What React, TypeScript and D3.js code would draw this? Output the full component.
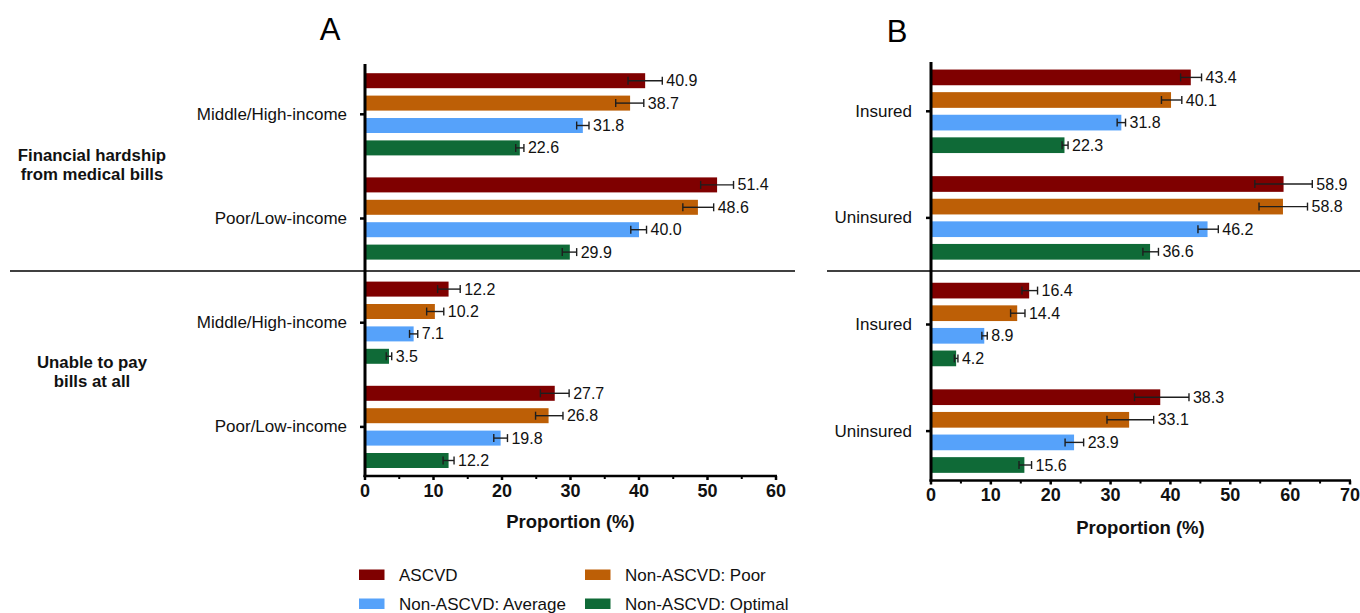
import React from "react";
import * as d3 from "d3";

// ---------- DATA ----------
const SERIES = ["ASCVD", "Non-ASCVD: Poor", "Non-ASCVD: Average", "Non-ASCVD: Optimal"];
const SERIES_COLORS = ["#7f0000", "#bd5f06", "#56a2fa", "#0f6a37"];
const OUTCOME_LABELS = [
  ["Financial hardship", "from medical bills"],
  ["Unable to pay", "bills at all"],
];
const PANEL_A_CATEGORIES = ["Middle/High-income", "Poor/Low-income"];
const PANEL_B_CATEGORIES = ["Insured", "Uninsured"];
const X_AXIS_TITLE = "Proportion (%)";
const PANEL_A_TICKS = [0, 10, 20, 30, 40, 50, 60];
const PANEL_B_TICKS = [0, 10, 20, 30, 40, 50, 60, 70];

// rows: hardship x cat1, hardship x cat2, unable x cat1, unable x cat2 ; columns: series
const A_VALUES = [
  [40.9, 38.7, 31.8, 22.6],
  [51.4, 48.6, 40.0, 29.9],
  [12.2, 10.2, 7.1, 3.5],
  [27.7, 26.8, 19.8, 12.2],
];
const A_LOW = [
  [38.4, 36.6, 30.9, 22.0],
  [49.0, 46.4, 38.8, 28.8],
  [10.6, 9.0, 6.5, 3.1],
  [25.6, 24.9, 18.8, 11.4],
];
const A_HIGH = [
  [43.4, 40.7, 32.7, 23.2],
  [53.8, 50.9, 41.1, 30.9],
  [13.9, 11.5, 7.7, 3.9],
  [29.8, 28.9, 20.8, 13.0],
];
const B_VALUES = [
  [43.4, 40.1, 31.8, 22.3],
  [58.9, 58.8, 46.2, 36.6],
  [16.4, 14.4, 8.9, 4.2],
  [38.3, 33.1, 23.9, 15.6],
];
const B_LOW = [
  [41.7, 38.5, 31.1, 21.9],
  [54.1, 54.8, 44.6, 35.4],
  [15.2, 13.3, 8.5, 3.9],
  [34.0, 29.4, 22.4, 14.7],
];
const B_HIGH = [
  [45.2, 41.9, 32.5, 22.9],
  [63.7, 62.9, 48.0, 38.0],
  [17.8, 15.7, 9.4, 4.5],
  [43.1, 37.2, 25.5, 16.8],
];

const FONT = "'Liberation Sans', Arial, Helvetica, sans-serif";

type PanelProps = {
  letter: string;
  letterX: number;
  letterY: number;
  categories: string[];
  values: number[][];
  low: number[][];
  high: number[][];
  ticks: number[];
  xMax: number;
  x0: number;
  x1: number;
  bandTop: number;
  bandBottom: number;
  axisTop: number;
  axisY: number;
  barStep: number;
  barHeight: number;
  labelRight: number;
  dividerX0: number;
  dividerX1: number;
  tickLabelY: number;
  titleY: number;
};

function Panel(p: PanelProps) {
  const x = d3.scaleLinear().domain([0, p.xMax]).range([p.x0, p.x1]);
  const groupKeys = d3.range(p.values.length).map(String);
  const y = d3.scaleBand<string>().domain(groupKeys).range([p.bandTop, p.bandBottom]).padding(0);
  const half = (p.barStep * SERIES.length) / 2;
  const pi = (p.barStep - p.barHeight) / p.barStep;
  const inner = d3
    .scaleBand<string>()
    .domain(SERIES)
    .range([-half, half])
    .paddingInner(pi)
    .paddingOuter(pi / 2);
  const minorTicks = d3.range(5, p.xMax, 10);
  const divY = 271;

  return (
    <g>
      <text x={p.letterX} y={p.letterY} fontSize={31} fontFamily={FONT} textAnchor="middle">
        {p.letter}
      </text>
      {/* divider */}
      <line x1={p.dividerX0} x2={p.dividerX1} y1={divY} y2={divY} stroke="#000" strokeWidth={1.5} />
      {/* bars */}
      {p.values.map((row, gi) => {
        const gc = (y(String(gi)) as number) + y.bandwidth() / 2;
        return (
          <g key={gi}>
            {row.map((v, si) => {
              const by = gc + (inner(SERIES[si]) as number);
              const cy = by + inner.bandwidth() / 2;
              const lo = x(p.low[gi][si]);
              const hi = x(p.high[gi][si]);
              return (
                <g key={si}>
                  <rect
                    x={x(0)}
                    y={by}
                    width={x(v) - x(0)}
                    height={inner.bandwidth()}
                    fill={SERIES_COLORS[si]}
                  />
                  <g stroke="#1e1e1e" strokeWidth={1.4}>
                    <line x1={lo} x2={hi} y1={cy} y2={cy} />
                    <line x1={lo} x2={lo} y1={cy - 4} y2={cy + 4} />
                    <line x1={hi} x2={hi} y1={cy - 4} y2={cy + 4} />
                  </g>
                  <text
                    x={hi + 4}
                    y={cy}
                    dominantBaseline="central"
                    fontSize={16}
                    fontFamily={FONT}
                    fill="#111"
                  >
                    {d3.format(".1f")(v)}
                  </text>
                </g>
              );
            })}
          </g>
        );
      })}
      {/* y axis */}
      <line x1={p.x0} x2={p.x0} y1={p.axisTop} y2={p.axisY + 1} stroke="#000" strokeWidth={3} />
      {p.values.map((_, gi) => {
        const gc = (y(String(gi)) as number) + y.bandwidth() / 2;
        return (
          <g key={"yl" + gi}>
            <line x1={p.x0 - 5} x2={p.x0} y1={gc} y2={gc} stroke="#000" strokeWidth={2.5} />
            <text
              x={p.labelRight}
              y={gc}
              dominantBaseline="central"
              textAnchor="end"
              fontSize={17}
              fontFamily={FONT}
              fill="#111"
            >
              {p.categories[gi % p.categories.length]}
            </text>
          </g>
        );
      })}
      {/* x axis */}
      <line x1={p.x0 - 1.5} x2={p.x1 + 1} y1={p.axisY} y2={p.axisY} stroke="#000" strokeWidth={2.5} />
      {p.ticks.map((t) => (
        <g key={"xt" + t}>
          <line x1={x(t)} x2={x(t)} y1={p.axisY} y2={p.axisY + 4} stroke="#000" strokeWidth={2.5} />
          <text
            x={x(t)}
            y={p.tickLabelY}
            dominantBaseline="central"
            textAnchor="middle"
            fontSize={18}
            fontWeight="bold"
            fontFamily={FONT}
            fill="#111"
          >
            {t}
          </text>
        </g>
      ))}
      {minorTicks.map((t) => (
        <line key={"mt" + t} x1={x(t)} x2={x(t)} y1={p.axisY} y2={p.axisY + 3} stroke="#000" strokeWidth={2} />
      ))}
      <text
        x={(p.x0 + p.x1) / 2}
        y={p.titleY}
        dominantBaseline="central"
        textAnchor="middle"
        fontSize={18.5}
        fontWeight="bold"
        fontFamily={FONT}
        fill="#111"
      >
        {X_AXIS_TITLE}
      </text>
    </g>
  );
}

export default function App() {
  const outcomeCenters = [165, 372];
  return (
    <svg
      width={1360}
      height={613}
      viewBox="0 0 1360 613"
      style={{ position: "absolute", left: 0, top: 0, background: "#fff" }}
    >
      <rect width={1360} height={613} fill="#fff" />
      {/* outcome labels */}
      {OUTCOME_LABELS.map((lines, i) => (
        <text
          key={i}
          textAnchor="middle"
          fontSize={16.8}
          fontWeight="bold"
          fontFamily={FONT}
          fill="#111"
        >
          {lines.map((ln, j) => (
            <tspan key={j} x={92} y={outcomeCenters[i] - 10 + j * 19.5} dominantBaseline="central">
              {ln}
            </tspan>
          ))}
        </text>
      ))}
      <Panel
        letter="A"
        letterX={330}
        letterY={39.5}
        categories={PANEL_A_CATEGORIES}
        values={A_VALUES}
        low={A_LOW}
        high={A_HIGH}
        ticks={PANEL_A_TICKS}
        xMax={60}
        x0={365}
        x1={776}
        bandTop={62.2}
        bandBottom={479}
        axisTop={64}
        axisY={476}
        barStep={22.4}
        barHeight={15}
        labelRight={347}
        dividerX0={10}
        dividerX1={795}
        tickLabelY={491}
        titleY={521}
      />
      <Panel
        letter="B"
        letterX={897}
        letterY={41.5}
        categories={PANEL_B_CATEGORIES}
        values={B_VALUES}
        low={B_LOW}
        high={B_HIGH}
        ticks={PANEL_B_TICKS}
        xMax={70}
        x0={931}
        x1={1350}
        bandTop={58}
        bandBottom={484.4}
        axisTop={62}
        axisY={480.5}
        barStep={22.6}
        barHeight={15.7}
        labelRight={912}
        dividerX0={827}
        dividerX1={1360}
        tickLabelY={495}
        titleY={527}
      />
      {/* legend */}
      {SERIES.map((s, i) => {
        const col = i % 2;
        const row = Math.floor(i / 2);
        const sx = col === 0 ? 359 : 585;
        const sy = row === 0 ? 569.5 : 598.5;
        return (
          <g key={s}>
            <rect x={sx} y={sy} width={25.5} height={10.5} fill={SERIES_COLORS[i]} />
            <text
              x={sx + 40}
              y={sy + 5.5}
              dominantBaseline="central"
              fontSize={17}
              fontFamily={FONT}
              fill="#111"
            >
              {s}
            </text>
          </g>
        );
      })}
    </svg>
  );
}
